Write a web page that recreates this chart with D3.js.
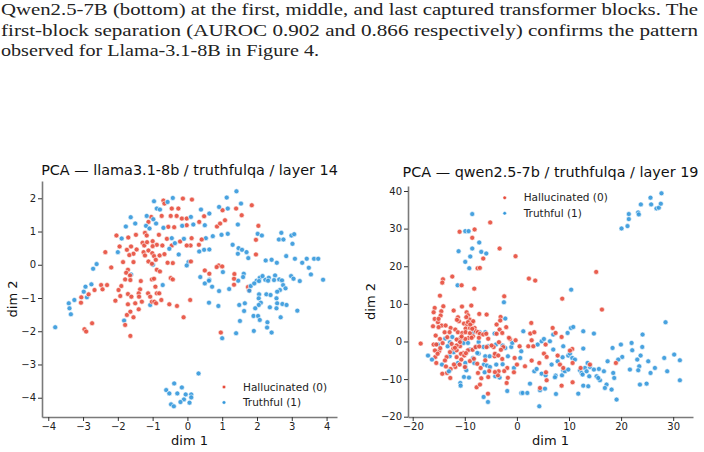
<!DOCTYPE html>
<html><head><meta charset="utf-8">
<script src="https://cdn.jsdelivr.net/npm/d3@7"></script>
<style>
body{margin:0;background:#fff;} svg{display:block;}
.cap{font-family:"Liberation Serif","Times New Roman",Tinos,Times,serif;}
.sans{font-family:"DejaVu Sans",sans-serif;}
</style>
</head><body>
<svg id="c" width="704" height="452"></svg>
<script>
const captionLines = [
  "Qwen2.5-7B (bottom) at the first, middle, and last captured transformer blocks. The",
  "first-block separation (AUROC 0.902 and 0.866 respectively) confirms the pattern",
  "observed for Llama-3.1-8B in Figure 4."
];
const seriesNames = ["Hallucinated (0)", "Truthful (1)"];
const titles = ["PCA \u2014 llama3.1-8b / truthfulqa / layer 14", "PCA \u2014 qwen2.5-7b / truthfulqa / layer 19"];
const llamaXTicks = [-4,-3,-2,-1,0,1,2,3,4];
const llamaYTicks = [-4,-3,-2,-1,0,1,2];
const qwenXTicks = [-20,-10,0,10,20,30];
const qwenYTicks = [-20,-10,0,10,20,30,40];

const llamaHallucinated = [
[-0.69,1.93],[-0.13,1.99],[0.13,1.96],[-0.66,1.84],[1.85,1.79],[-0.45,1.69],[-0.26,1.69],[0.48,1.46],[1.01,1.64],[1.40,1.69],
[-1.04,1.44],[-0.74,1.47],[-0.48,1.47],[-0.31,1.47],[-0.16,1.39],[-0.02,1.39],[-0.02,1.19],[-0.38,1.13],[-0.55,1.14],[-1.12,1.29],
[-1.22,0.96],[-1.17,0.88],[0.34,1.29],[0.85,1.15],[0.94,1.24],[1.08,1.34],[1.56,1.49],[2.04,1.17],[1.97,0.75],[-2.04,0.88],
[-1.70,0.82],[-1.48,0.90],[-0.82,0.90],[-0.59,0.78],[-0.21,0.70],[0.12,0.80],[0.33,0.60],[0.41,0.76],[0.09,0.58],[-0.02,0.58],
[-0.45,0.58],[-0.72,0.58],[-0.88,0.60],[-1.00,0.56],[-1.29,0.66],[-1.24,0.58],[-1.16,0.68],[-1.00,0.71],[-1.95,0.55],[-1.62,0.55],
[-1.74,0.45],[-1.46,0.46],[-1.55,0.33],[-1.67,0.29],[-2.36,0.38],[-1.26,0.38],[-1.12,0.43],[-1.01,0.35],[-1.22,0.28],[-0.96,0.26],
[-0.80,0.28],[-0.66,0.32],[-0.91,0.15],[-1.12,0.10],[-1.02,0.03],[-1.85,0.08],[-1.55,0.08],[-2.19,-0.08],[0.10,0.10],[-0.42,0.05],
[-0.57,0.06],[-0.88,-0.15],[-0.79,-0.20],[1.97,0.31],[-1.71,-0.15],[-1.76,-0.24],[-1.65,-0.32],[-1.79,-0.44],[-1.02,-0.44],[-0.96,-0.42],
[-0.48,-0.40],[-0.42,-0.44],[0.90,-0.02],[0.84,-0.07],[1.00,-0.05],[0.50,-0.17],[0.63,-0.27],[1.35,-0.28],[1.34,-0.42],[1.34,-0.60],
[1.74,-0.67],[1.77,-0.77],
[-2.48,-0.61],[-2.31,-0.61],[-2.44,-0.74],[-2.67,-0.76],[-2.84,-0.89],[-3.05,-0.98],[-3.06,-1.14],[-1.90,-0.64],[-1.98,-0.76],[-1.93,-0.94],
[-2.07,-1.08],[-1.71,-0.88],[-1.61,-0.96],[-1.71,-1.19],[-2.74,-1.76],[-2.96,-1.94],[-2.91,-2.01],[-1.64,-2.14],[-1.79,-1.81],[-1.74,-1.51],
[-1.64,-1.41],[-1.55,-1.58],[-1.40,-1.34],[-1.50,-1.16],[-1.36,-0.74],[-1.40,-0.86],[-1.39,-0.96],[-1.31,-1.11],[-1.13,-0.86],[-1.07,-0.96],
[-1.02,-1.11],[-0.88,-0.86],[-0.81,-0.86],[-0.92,-0.66],[-0.95,-1.11],[-0.75,-1.06],[-0.90,-1.16],[-0.52,-1.19],[-0.30,-1.24],[-0.11,-1.58],
[0.08,-1.06],[-1.64,-0.46],[-1.34,-0.49],[0.96,-2.04]
];
const llamaTruthful = [
[1.41,2.21],[1.13,2.02],[1.54,1.84],[-0.42,2.01],[-0.96,1.91],[-0.57,1.89],[-0.88,1.69],[-0.79,1.66],[0.39,1.66],[0.63,1.54],
[0.91,1.74],[1.16,1.69],[-1.63,1.43],[-1.17,1.47],[-0.98,1.37],[0.10,1.44],[0.17,1.21],[-0.15,1.17],[-0.69,1.11],[-1.19,1.17],
[-0.90,1.24],[-1.09,1.09],[-1.77,1.15],[-1.50,1.24],[0.50,1.19],[1.45,1.21],[1.16,0.93],[0.98,0.90],[0.73,0.86],[0.53,0.80],
[2.02,0.93],[2.14,0.88],[2.70,0.96],[2.63,0.76],[2.76,0.76],[2.99,0.88],[3.07,0.92],[3.02,0.63],[-1.89,0.79],[-0.45,0.80],
[-0.36,0.65],[-0.10,0.78],[-0.52,0.48],[-2.00,0.38],[-0.25,0.31],[-2.61,0.02],[-2.71,-0.12],[0.34,0.40],[0.48,0.45],[0.63,0.46],
[0.03,0.08],[-0.02,-0.02],[-0.99,0.00],[1.30,0.60],[1.47,0.50],[1.57,0.45],[1.45,0.33],[1.70,0.38],[1.75,0.20],[2.25,0.13],
[2.42,0.15],[2.57,0.06],[2.84,0.26],[3.09,0.18],[3.30,0.06],[3.49,-0.09],[3.43,0.18],[3.64,0.18],[3.76,0.18],[3.55,-0.29],
[3.90,-0.45],[-1.62,-0.29],[1.02,-0.22],[1.62,-0.27],[1.60,-0.37],[0.37,-0.37],[0.63,-0.45],[1.46,-0.48],[1.99,-0.48],[2.08,-0.39],
[2.24,-0.45],[2.16,-0.34],[2.34,-0.39],[2.52,-0.32],[2.49,-0.46],[2.64,-0.44],[2.72,-0.47],[2.98,-0.34],[3.05,-0.42],
[-2.93,-0.66],[-2.76,-0.59],[-2.98,-0.81],[-2.89,-0.98],[-3.25,-1.06],[-3.41,-1.16],[-3.39,-1.31],[-3.35,-1.49],[-3.80,-1.88],
[-1.82,-1.68],[-0.71,-0.61],[-1.07,-1.21],
[0.50,-0.56],[0.62,-0.48],[0.71,-0.66],[0.91,-0.79],[1.20,-0.73],[1.78,-0.78],[1.82,-0.64],[1.92,-0.56],[2.06,-0.49],[2.32,-0.48],
[2.75,-0.61],[2.82,-0.71],[2.66,-0.76],[2.58,-0.81],[3.23,-0.49],[2.06,-0.89],[2.27,-0.89],[2.39,-0.91],[2.56,-1.01],[2.05,-1.01],
[2.11,-1.14],[2.58,-1.16],[2.56,-1.31],[2.73,-1.18],[2.85,-1.21],[2.05,-1.21],[1.95,-1.31],[2.37,-1.28],[1.65,-1.16],[1.49,-1.21],
[1.63,-1.39],[0.62,-1.14],[0.89,-1.24],[3.16,-1.38],[1.90,-1.54],[2.03,-1.54],[2.08,-1.66],[2.30,-1.73],[1.51,-1.69],[2.68,-1.58],
[2.29,-1.89],[1.91,-1.99],[2.42,-2.04],[1.40,-2.06],[1.00,-2.21],
[0.32,-3.27],[-0.38,-3.57],[-0.61,-3.77],[-0.52,-3.87],[-0.16,-3.69],[-0.29,-3.87],[-0.05,-3.90],[0.11,-3.90],[0.11,-3.99],[-0.10,-4.05],
[-0.20,-4.13],[0.06,-4.15],[-0.47,-4.20],[-0.39,-4.26]
];

const qwenHallucinated = [
[-5.12,31.64],[-11.0,29.16],[-8.12,29.78],[-8.57,27.56],[-3.32,24.71],[-0.26,22.67],[-6.46,22.04],[-7.54,19.47],[-7.10,19.56],[15.22,18.49],
[-12.40,17.24],[-14.19,16.53],[-14.32,15.64],[2.30,16.71],[3.52,16.18],[-10.61,14.93],[-8.18,14.04],[-14.77,12.18],[-2.43,12.0],[8.70,11.38],
[-15.78,8.92],[-14.12,9.36],[-15.98,7.76],[-14.51,8.03],[-12.14,8.21],[-10.54,9.27],[-8.75,9.54],[-11.31,6.43],[-11.12,5.37],[-9.65,7.76],
[-9.39,6.97],[-7.22,7.32],[-5.81,7.14],[-15.78,5.99],[-15.15,5.11],[-14.44,4.22],[-16.10,4.04],[-12.72,3.60],[-13.87,2.45],[-15.59,1.56],
[-14.76,0.67],[-15.98,-0.83],[-14.95,-2.61],[-15.66,-4.11],[-15.47,-5.71],[-13.42,-8.37],[-12.78,-9.70],[-18.47,-0.57],[-11.82,3.15],[-11.31,2.45],
[-10.48,2.27],[-10.16,4.75],[-9.52,4.48],[-9.07,5.81],[-8.62,4.93],[-9.84,3.42],[-9.01,3.60],[-8.11,3.60],[-7.86,2.71],[-8.43,1.38],
[-9.26,0.94],[-9.90,0.67],[-10.80,0.94],[-11.56,0.50],[-12.52,-0.66],[-12.20,-1.90],[-11.56,-2.34],[-10.93,-1.28],[-10.29,-3.05],[-9.39,-2.34],
[-10.67,-4.82],[-11.82,-6.77],[-12.72,-7.31],[-10.99,-6.15],[-6.07,-5.00],[-6.96,-7.04],[-7.47,-8.37],[-6.83,-9.79],[-7.73,-12.18],[-7.09,-11.47],
[-5.55,-13.87],[-3.13,6.52],[-3.32,3.15],[-2.81,2.27],[-1.33,0.67],[-0.25,0.32],[0.52,-1.28],[-0.44,-4.38],[0.01,-6.15],[-0.57,-8.19],
[-3.51,-7.93],[-1.97,-11.03],[-1.85,-7.04],[-4.47,-1.46],[-4.28,-3.94],[-2.81,-4.65],[-3.64,-8.99],
[-14.64,6.90],[-15.03,6.02],[-15.03,3.81],[-13.68,4.25],[-11.51,5.75],[-9.72,6.46],[-9.40,5.13],[-8.95,4.51],[-8.38,5.40],[-3.20,5.58],
[-3.90,4.51],[-2.05,3.81],[-15.47,-0.80],[-15.73,-2.39],[-15.22,-3.27],[-14.71,-1.77],[-14.26,-0.44],[-13.36,1.15],[-12.92,2.48],[-10.61,1.33],
[-9.85,2.48],[-9.02,2.21],[-8.57,3.36],[-7.48,2.48],[-7.10,2.04],[-6.46,1.86],[-5.88,2.04],[-5.50,0.71],[-7.29,0.97],[-8.70,0.97],
[-10.93,-0.18],[-11.57,-1.06],[-11.89,-1.68],[-12.85,-2.83],[-13.49,-4.16],[-13.81,-5.04],[-14.32,-8.58],[-13.62,-6.64],[-12.08,-6.11],[-11.57,-4.16],
[-10.74,-3.27],[-10.10,-3.72],[-9.78,-3.10],[-8.50,-2.21],[-7.93,-1.50],[-7.23,-1.33],[-9.97,-6.81],[-9.02,-5.22],[-8.25,-4.60],[-7.61,-5.93],
[-5.50,-9.47],[-5.31,-7.88],[-4.22,-8.14],[-2.43,-7.88],[-1.73,-9.65],[-3.90,2.04],[-3.45,-0.18],[-2.62,-1.50],[-1.53,0.97],[-4.86,-1.06],
[-5.82,-1.50],[-4.22,-3.27],[-3.58,-3.72],[-3.07,-2.21],
[16.32,8.47],[2.76,4.93],[6.86,3.60],[7.43,2.27],[2.57,2.09],[3.34,2.45],[8.58,1.20],[2.83,0.32],[2.19,-1.28],[3.15,-1.28],
[5.51,-0.83],[5.19,-3.23],[5.71,-4.11],[7.82,-3.76],[10.63,-1.99],[10.18,-2.43],[2.83,-5.09],[1.55,-6.60],[4.30,-5.71],[8.26,-6.15],
[8.90,-7.04],[10.69,-5.71],[12.23,-7.04],[14.02,-6.15],[19.00,-5.71],[5.58,-8.19],[5.71,-10.32],[4.43,-12.36],[8.58,-11.74],[10.69,-10.85]
];
const qwenTruthful = [
[-8.57,33.87],[-9.91,29.33],[-9.27,29.33],[-7.23,26.31],[-8.57,24.71],[-11.19,24.0],[-6.84,23.82],[-5.88,23.38],[-8.95,22.58],[-9.91,21.16],
[-9.14,19.47],[-11.38,14.93],[10.42,13.78],
[20.08,30.04],[21.23,30.67],[21.48,32.53],[21.48,33.87],[23.27,34.31],[23.40,33.78],[23.79,36.44],[25.64,38.22],[25.77,36.44],[26.79,35.38],
[27.24,35.56],[27.62,36.62],[27.75,39.38],
[-2.49,10.42],[-2.23,6.08],[-8.30,2.45],[-7.15,2.45],[-6.07,2.45],[-4.28,2.09],[-13.74,0.76],[-12.40,1.20],[-12.84,-0.21],[-13.29,-1.28],
[-10.80,0.23],[-10.22,-0.39],[-9.39,-0.39],[-7.34,-0.12],[-7.86,-1.46],[-6.39,-1.46],[-5.55,-1.28],[-4.02,-0.83],[-2.74,-1.10],[-2.23,-1.72],
[-1.08,-1.46],[-0.89,-0.39],[-15.15,-0.83],[-17.06,-3.76],[-16.30,-4.82],[-14.38,-6.15],[-12.91,-3.94],[-12.14,-2.87],[-11.31,-5.71],[-9.90,-5.71],
[-8.43,-4.38],[-7.34,-3.23],[-6.07,-3.94],[-5.23,-3.94],[-4.15,-3.49],[-9.01,-2.16],[-7.60,-3.05],[-6.32,-6.15],[-5.75,-6.42],[-5.17,-6.77],
[-9.90,-6.77],[-9.71,-7.66],[-8.18,-5.71],[-3.96,-6.15],[-2.74,-6.06],[-1.72,-3.94],[-0.57,-7.04],[0.84,-2.61],[0.65,-4.38],[-4.15,-9.26],
[-3.32,-9.61],[-13.04,-7.93],[-10.16,-9.43],[-9.20,-9.61],[-10.86,-11.03],[-10.80,-11.74],[-6.39,-14.75],[-5.55,-16.08],[-1.85,-13.16],[0.84,-13.69],
[-6.19,-8.19],
[1.23,2.71],[3.98,-0.83],[4.75,0.05],[5.19,0.67],[6.34,0.05],[6.98,1.83],[9.73,2.27],[10.37,3.60],[10.82,3.86],[12.74,2.71],
[14.78,2.09],[12.74,-1.90],[8.90,-1.28],[6.98,-2.16],[7.82,-5.27],[8.77,-4.20],[9.86,-3.76],[10.18,-3.23],[10.63,-4.38],[11.14,-4.82],
[6.66,-6.15],[3.34,-7.93],[3.79,-7.31],[4.75,-8.55],[5.51,-8.99],[7.43,-9.08],[7.30,-9.52],[8.65,-8.99],[8.90,-7.66],[9.22,-7.93],
[9.86,-7.48],[12.10,-7.66],[12.42,-8.37],[13.06,-7.04],[13.57,-5.71],[14.02,-6.77],[13.38,-7.93],[12.61,-8.81],[13.89,-9.26],[14.78,-7.48],
[15.74,-7.31],[16.70,-7.93],[15.30,-9.26],[15.94,-10.32],[17.21,-11.47],[16.89,-12.36],[18.49,-8.37],[18.68,-9.70],[17.41,-5.27],[18.36,-1.72],
[19.96,-0.83],[22.01,-0.39],[22.14,-2.34],[24.12,1.83],[24.06,-1.46],[25.21,-5.27],[23.74,-3.76],[23.10,-4.82],[23.48,-6.60],[23.29,-7.66],
[21.69,-7.48],[20.22,-4.11],[19.45,-4.82],[26.49,-7.04],[25.65,-8.37],[28.28,-4.38],[28.85,-7.93],[30.19,-3.49],[31.28,-5.00],[31.28,-10.32],
[28.53,5.11],[23.61,-11.47],[24.89,-11.21],[19.13,-15.46],[4.30,-17.24],[2.51,-11.21],[1.10,-13.69],[2.00,-13.69],[4.43,-12.98],[5.39,-12.54],
[7.50,-13.96],[11.78,-13.87],[12.74,-11.74],[13.70,-11.91],[15.62,-9.70],[18.17,-12.80]
];

const colors = ["#e74c3c", "#3498db"];
const svg = d3.select("#c");
svg.append("rect").attr("width", 704).attr("height", 452).attr("fill", "#fff");

// caption text (serif, justified)
const capWidths = [697, 697, 318];
captionLines.forEach((t, i) => {
  svg.append("text").attr("class", "cap")
    .attr("x", 1).attr("y", 15 + i * 20.5)
    .style("font-size", "16.5px").attr("fill", "#222")
    .attr("textLength", capWidths[i]).attr("lengthAdjust", "spacingAndGlyphs")
    .text(t);
});

function interleave(a, b) {
  const out = [];
  const n = Math.max(a.length, b.length);
  for (let i = 0; i < n; i++) {
    if (i < a.length) out.push({ p: a[i], c: 0 });
    if (i < b.length) out.push({ p: b[i], c: 1 });
  }
  return out;
}

function panel(cfg) {
  const x = d3.scaleLinear().domain(cfg.xDomain).range([cfg.x0, cfg.x1]);
  const y = d3.scaleLinear().domain(cfg.yDomain).range([cfg.y1, cfg.y0]);
  const g = svg.append("g").attr("class", "sans");

  const pts = interleave(cfg.hall, cfg.truth);
  g.append("g").selectAll("circle").data(pts).join("circle")
    .attr("cx", d => x(d.p[0])).attr("cy", d => y(d.p[1]))
    .attr("r", 2.5)
    .attr("fill", d => colors[d.c]).attr("fill-opacity", 0.9)
    .attr("stroke", "#fff").attr("stroke-width", 0.7).attr("stroke-opacity", 0.85);

  const xa = g.append("g").attr("transform", `translate(0,${cfg.y1})`)
    .call(d3.axisBottom(x).tickValues(cfg.xTicks).tickSize(4).tickSizeOuter(0).tickPadding(2).tickFormat(d3.format("d")));
  const ya = g.append("g").attr("transform", `translate(${cfg.x0},0)`)
    .call(d3.axisLeft(y).tickValues(cfg.yTicks).tickSize(4).tickSizeOuter(0).tickPadding(2).tickFormat(d3.format("d")));
  [xa, ya].forEach(a => {
    a.attr("font-family", null);
    a.select(".domain").attr("stroke", "#7a7a7a").attr("stroke-width", 1.6);
    a.selectAll(".tick line").attr("stroke", "#333").attr("stroke-width", 1);
    a.selectAll(".tick text").attr("font-size", 10).attr("fill", "#222");
  });

  g.append("text").attr("x", (cfg.x0 + cfg.x1) / 2).attr("y", cfg.titleY)
    .attr("text-anchor", "middle").attr("font-size", 14.4).attr("fill", "#111")
    .text(cfg.title);
  g.append("text").attr("x", (cfg.x0 + cfg.x1) / 2).attr("y", 444.5)
    .attr("text-anchor", "middle").attr("font-size", 13).attr("fill", "#111")
    .text("dim 1");
  g.append("text").attr("transform", `translate(${cfg.ylabX},${(cfg.y0 + cfg.y1) / 2}) rotate(-90)`)
    .attr("text-anchor", "middle").attr("font-size", 13).attr("fill", "#111")
    .text("dim 2");

  // legend
  seriesNames.forEach((name, i) => {
    const ly = cfg.legY + i * 15.5;
    g.append("circle").attr("cx", cfg.legX).attr("cy", ly).attr("r", 1.8)
      .attr("fill", colors[i]).attr("stroke", "#fff").attr("stroke-width", 0.5);
    g.append("text").attr("x", cfg.legX + 19).attr("y", ly + 3.6)
      .attr("font-size", 10.5).attr("fill", "#222").text(name);
  });
}

panel({
  x0: 42, x1: 337, y0: 181, y1: 417,
  xDomain: [-4.18, 4.30], yDomain: [-4.58, 2.52],
  xTicks: llamaXTicks, yTicks: llamaYTicks,
  hall: llamaHallucinated, truth: llamaTruthful,
  title: titles[0], titleY: 175, ylabX: 16.5,
  legX: 224, legY: 387
});
panel({
  x0: 408, x1: 693, y0: 186, y1: 417,
  xDomain: [-20.9, 33.8], yDomain: [-20.08, 41.33],
  xTicks: qwenXTicks, yTicks: qwenYTicks,
  hall: qwenHallucinated, truth: qwenTruthful,
  title: titles[1], titleY: 177, ylabX: 374.5,
  legX: 504.7, legY: 197.8
});
</script>
</body></html>
